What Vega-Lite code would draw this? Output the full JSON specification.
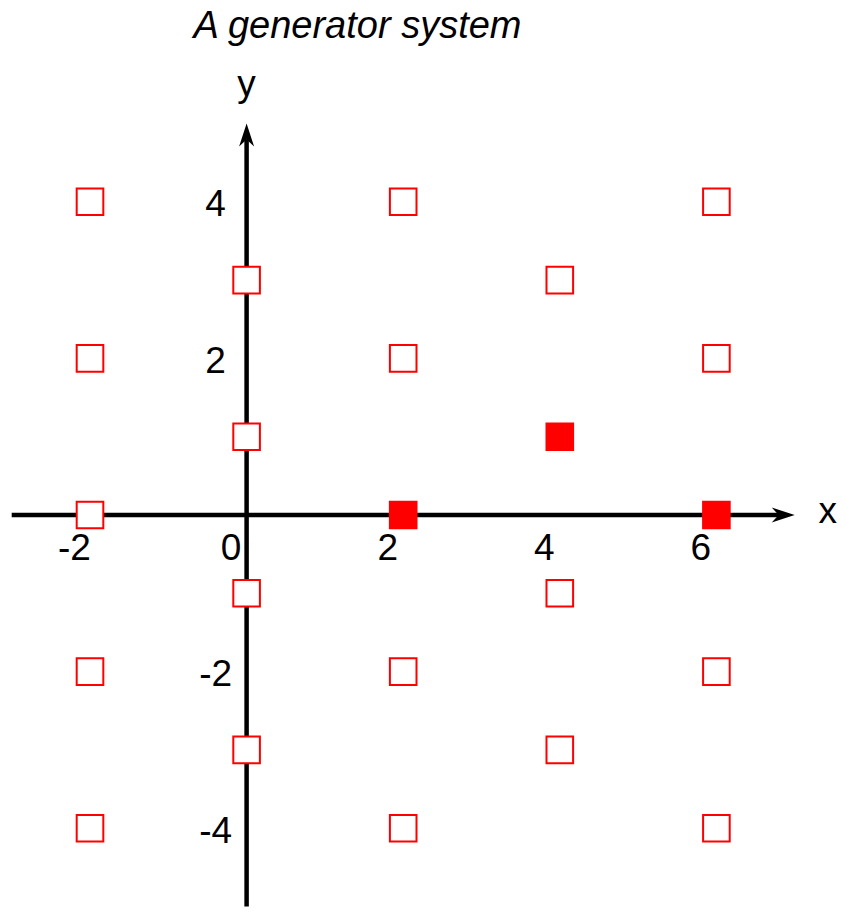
{
  "$schema": "https://vega.github.io/schema/vega-lite/v6.json",
  "width": 846,
  "height": 916,
  "autosize": {"type": "none"},
  "padding": 0,
  "background": "white",
  "config": {"view": {"stroke": null}, "font": "Liberation Sans"},
  "datasets": {
    "axisLines": [
      {"x": -3, "y": 0, "x2": 6.8, "y2": 0},
      {"x": 0, "y": -5, "x2": 0, "y2": 4.8}
    ],
    "arrowHeads": [
      {"x": 7, "y": 0, "dir": "right"},
      {"x": 0, "y": 5, "dir": "up"}
    ],
    "xTicks": [
      {"x": -2, "label": "-2"},
      {"x": 0, "label": "0"},
      {"x": 2, "label": "2"},
      {"x": 4, "label": "4"},
      {"x": 6, "label": "6"}
    ],
    "yTicks": [
      {"y": -4, "label": "-4"},
      {"y": -2, "label": "-2"},
      {"y": 2, "label": "2"},
      {"y": 4, "label": "4"}
    ],
    "lattice": [
      {"x": -2, "y": 4, "kind": "open"},
      {"x": 2, "y": 4, "kind": "open"},
      {"x": 6, "y": 4, "kind": "open"},
      {"x": 0, "y": 3, "kind": "open"},
      {"x": 4, "y": 3, "kind": "open"},
      {"x": -2, "y": 2, "kind": "open"},
      {"x": 2, "y": 2, "kind": "open"},
      {"x": 6, "y": 2, "kind": "open"},
      {"x": 0, "y": 1, "kind": "open"},
      {"x": 4, "y": 1, "kind": "filled"},
      {"x": -2, "y": 0, "kind": "open"},
      {"x": 2, "y": 0, "kind": "filled"},
      {"x": 6, "y": 0, "kind": "filled"},
      {"x": 0, "y": -1, "kind": "open"},
      {"x": 4, "y": -1, "kind": "open"},
      {"x": -2, "y": -2, "kind": "open"},
      {"x": 2, "y": -2, "kind": "open"},
      {"x": 6, "y": -2, "kind": "open"},
      {"x": 0, "y": -3, "kind": "open"},
      {"x": 4, "y": -3, "kind": "open"},
      {"x": -2, "y": -4, "kind": "open"},
      {"x": 2, "y": -4, "kind": "open"},
      {"x": 6, "y": -4, "kind": "open"}
    ]
  },
  "layer": [
    {
      "data": {"name": "axisLines"},
      "mark": {"type": "rule", "color": "black", "strokeWidth": 4.5},
      "encoding": {
        "x": {"field": "x", "type": "quantitative", "axis": null,
              "scale": {"domain": [-3.1494, 7.6552], "nice": false, "zero": false}},
        "y": {"field": "y", "type": "quantitative", "axis": null,
              "scale": {"domain": [-5.1213, 6.5773], "nice": false, "zero": false}},
        "x2": {"field": "x2"},
        "y2": {"field": "y2"}
      }
    },
    {
      "data": {"name": "arrowHeads"},
      "mark": {"type": "point", "filled": true, "color": "black", "opacity": 1, "size": 400, "strokeWidth": 0},
      "encoding": {
        "x": {"field": "x", "type": "quantitative", "axis": null,
              "scale": {"domain": [-3.1494, 7.6552], "nice": false, "zero": false}},
        "y": {"field": "y", "type": "quantitative", "axis": null,
              "scale": {"domain": [-5.1213, 6.5773], "nice": false, "zero": false}},
        "shape": {"field": "dir", "type": "nominal", "legend": null,
                  "scale": {"domain": ["right", "up"],
                            "range": ["M0,0L-2.3,-0.75L-1.6,0L-2.3,0.75Z", "M0,0L-0.75,2.3L0,1.6L0.75,2.3Z"]}}
      }
    },
    {
      "data": {"name": "xTicks"},
      "mark": {"type": "text", "fontSize": 37, "align": "center", "baseline": "alphabetic", "dx": -15.5, "dy": 45, "color": "black"},
      "encoding": {
        "x": {"field": "x", "type": "quantitative", "axis": null,
              "scale": {"domain": [-3.1494, 7.6552], "nice": false, "zero": false}},
        "y": {"datum": 0, "type": "quantitative", "axis": null,
              "scale": {"domain": [-5.1213, 6.5773], "nice": false, "zero": false}},
        "text": {"field": "label"}
      }
    },
    {
      "data": {"name": "yTicks"},
      "mark": {"type": "text", "fontSize": 37, "align": "center", "baseline": "alphabetic", "dx": -31, "dy": 14.5, "color": "black"},
      "encoding": {
        "x": {"datum": 0, "type": "quantitative", "axis": null,
              "scale": {"domain": [-3.1494, 7.6552], "nice": false, "zero": false}},
        "y": {"field": "y", "type": "quantitative", "axis": null,
              "scale": {"domain": [-5.1213, 6.5773], "nice": false, "zero": false}},
        "text": {"field": "label"}
      }
    },
    {
      "data": {"values": [{"name": "x"}]},
      "mark": {"type": "text", "fontSize": 37, "align": "center", "baseline": "alphabetic", "dx": 33, "dy": 8, "color": "black"},
      "encoding": {
        "x": {"datum": 7, "type": "quantitative", "axis": null,
              "scale": {"domain": [-3.1494, 7.6552], "nice": false, "zero": false}},
        "y": {"datum": 0, "type": "quantitative", "axis": null,
              "scale": {"domain": [-5.1213, 6.5773], "nice": false, "zero": false}},
        "text": {"field": "name"}
      }
    },
    {
      "data": {"values": [{"name": "y"}]},
      "mark": {"type": "text", "fontSize": 37, "align": "center", "baseline": "alphabetic", "dy": -28, "color": "black"},
      "encoding": {
        "x": {"datum": 0, "type": "quantitative", "axis": null,
              "scale": {"domain": [-3.1494, 7.6552], "nice": false, "zero": false}},
        "y": {"datum": 5, "type": "quantitative", "axis": null,
              "scale": {"domain": [-5.1213, 6.5773], "nice": false, "zero": false}},
        "text": {"field": "name"}
      }
    },
    {
      "data": {"values": [{"title": "A generator system"}]},
      "mark": {"type": "text", "fontSize": 38, "fontStyle": "italic", "align": "center", "baseline": "alphabetic", "color": "black"},
      "encoding": {
        "x": {"datum": 1.416, "type": "quantitative", "axis": null,
              "scale": {"domain": [-3.1494, 7.6552], "nice": false, "zero": false}},
        "y": {"datum": 6.092, "type": "quantitative", "axis": null,
              "scale": {"domain": [-5.1213, 6.5773], "nice": false, "zero": false}},
        "text": {"field": "title"}
      }
    },
    {
      "data": {"name": "lattice"},
      "mark": {"type": "point", "shape": "square", "filled": true, "opacity": 1, "size": 708, "stroke": "red", "strokeWidth": 2},
      "encoding": {
        "x": {"field": "x", "type": "quantitative", "axis": null,
              "scale": {"domain": [-3.1494, 7.6552], "nice": false, "zero": false}},
        "y": {"field": "y", "type": "quantitative", "axis": null,
              "scale": {"domain": [-5.1213, 6.5773], "nice": false, "zero": false}},
        "fill": {"field": "kind", "type": "nominal", "legend": null,
                 "scale": {"domain": ["open", "filled"], "range": ["white", "red"]}}
      }
    }
  ]
}
